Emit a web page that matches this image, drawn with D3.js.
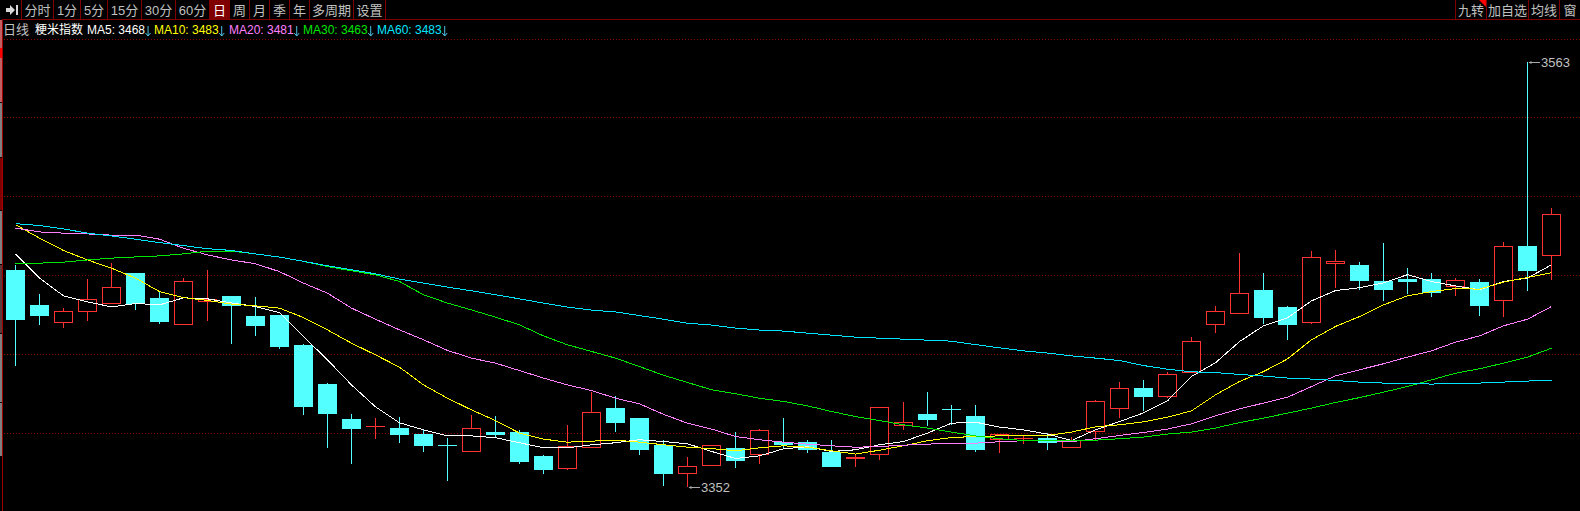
<!DOCTYPE html>
<html><head><meta charset="utf-8">
<script src="https://cdn.jsdelivr.net/npm/d3@7"></script>
<style>html,body{margin:0;padding:0;background:#000;overflow:hidden}svg{display:block}</style>
</head><body><svg id="c" width="1580" height="511"></svg>
<script>
const opens=[3459.9,3442.5,3434.2,3439.7,3443.2,3458.4,3446.0,3433.2,3444.2,3447.0,3437.1,3437.6,3422.7,3403.3,3386.0,3382.4,3381.5,3378.6,3373.0,3369.8,3379.5,3379.5,3367.6,3361.8,3371.9,3391.4,3386.5,3373.1,3359.3,3363.3,3371.6,3368.3,3374.6,3374.6,3369.6,3366.5,3368.3,3383.1,3388.5,3390.9,3387.5,3375.9,3376.4,3376.6,3372.2,3379.9,3391.1,3401.4,3397.5,3409.1,3433.2,3438.7,3450.0,3441.5,3434.2,3463.2,3462.4,3454.4,3455.4,3455.4,3452.1,3453.9,3444.7,3471.8,3467.2];
const highs=[3462.4,3448.0,3441.0,3455.4,3463.3,3458.4,3449.5,3455.8,3459.9,3447.0,3446.5,3437.6,3423.0,3403.8,3388.5,3386.5,3387.0,3380.5,3376.6,3388.0,3387.5,3380.5,3368.1,3383.0,3399.2,3397.4,3386.5,3375.6,3367.1,3372.9,3379.5,3380.9,3386.5,3375.6,3375.6,3368.1,3392.0,3394.4,3399.4,3392.9,3392.9,3378.4,3377.5,3379.0,3377.0,3395.4,3404.3,3405.3,3409.3,3426.6,3442.0,3468.3,3458.4,3442.0,3469.3,3469.8,3463.8,3473.3,3460.9,3458.4,3455.9,3455.4,3473.8,3563.0,3490.6];
const lows=[3412.4,3432.6,3431.1,3434.6,3443.2,3440.0,3433.1,3433.2,3434.6,3423.2,3427.1,3420.7,3388.0,3371.6,3363.7,3376.1,3374.1,3369.6,3355.2,3369.8,3376.6,3363.7,3358.7,3360.7,3371.9,3379.5,3368.1,3352.7,3352.0,3362.7,3361.7,3363.7,3371.6,3369.1,3362.2,3362.2,3365.6,3380.5,3382.5,3383.0,3369.6,3369.1,3373.6,3370.6,3371.6,3375.6,3386.5,3390.0,3396.4,3409.1,3428.6,3438.7,3433.1,3425.2,3433.1,3451.0,3450.0,3444.5,3448.0,3446.5,3447.0,3437.1,3436.6,3449.5,3454.9];
const closes=[3435.1,3437.1,3439.4,3445.3,3451.3,3443.0,3434.1,3454.3,3445.3,3442.0,3432.1,3421.7,3391.9,3388.5,3381.0,3382.5,3378.1,3372.6,3372.9,3381.4,3378.1,3364.6,3360.7,3372.4,3389.3,3384.0,3370.6,3358.7,3362.5,3372.9,3365.1,3380.4,3373.1,3370.6,3362.2,3367.0,3392.0,3384.3,3385.5,3390.8,3370.6,3378.4,3376.5,3374.2,3375.6,3394.8,3401.2,3396.9,3408.2,3424.5,3439.4,3448.3,3436.1,3432.6,3466.2,3464.2,3454.4,3450.0,3453.9,3448.5,3454.8,3442.0,3471.6,3459.4,3487.5];
const ma5=[3467.8,3455.8,3447.0,3444.0,3441.5,3443.2,3442.5,3446.0,3445.5,3443.5,3441.7,3438.6,3426.8,3415.2,3402.8,3391.9,3384.0,3380.5,3377.5,3377.5,3376.6,3374.1,3371.6,3371.6,3373.1,3374.1,3375.6,3374.7,3373.6,3369.8,3366.3,3367.6,3371.1,3372.1,3369.8,3370.6,3373.1,3374.7,3378.9,3383.8,3384.3,3381.9,3380.5,3378.4,3375.2,3380.5,3384.6,3388.9,3394.9,3407.0,3413.8,3424.3,3432.1,3436.1,3444.5,3449.6,3451.0,3453.4,3457.5,3454.1,3451.9,3450.0,3454.1,3455.8,3462.4];
const ma10=[3482.3,3475.6,3469.5,3464.8,3460.7,3455.8,3449.1,3446.1,3444.7,3442.9,3442.0,3440.9,3436.2,3430.1,3423.5,3417.7,3411.6,3402.8,3396.2,3390.4,3385.1,3378.9,3375.9,3374.4,3374.9,3375.4,3374.4,3373.1,3371.9,3371.2,3370.1,3371.6,3372.6,3371.9,3370.1,3368.5,3370.4,3372.6,3375.1,3376.7,3377.2,3377.5,3377.9,3377.7,3379.4,3382.0,3383.0,3384.5,3386.8,3389.9,3397.9,3404.5,3409.4,3415.7,3425.2,3431.8,3436.7,3442.5,3447.0,3449.1,3450.6,3450.3,3453.8,3456.1,3458.5];
const ma20=[3480.6,3478.7,3478.1,3477.7,3477.1,3477.1,3475.1,3470.6,3467.3,3464.8,3462.9,3459.0,3453.3,3448.3,3440.9,3435.4,3430.1,3425.2,3419.9,3416.1,3413.6,3409.9,3406.2,3402.8,3400.0,3396.2,3393.4,3388.2,3383.8,3380.9,3377.2,3375.6,3374.4,3373.4,3372.6,3371.9,3372.2,3372.9,3373.4,3373.9,3373.9,3374.6,3375.1,3375.2,3374.6,3376.1,3377.7,3379.2,3380.9,3383.5,3387.5,3390.9,3393.8,3396.7,3402.0,3407.3,3410.3,3413.3,3416.6,3419.7,3424.0,3427.1,3432.1,3435.4,3441.7];
const ma30=[3462.9,3463.2,3463.7,3464.8,3465.7,3466.3,3466.8,3467.8,3469.2,3469.2,3467.8,3466.2,3464.1,3461.5,3459.4,3457.4,3454.1,3447.5,3443.4,3440.0,3436.4,3432.6,3427.1,3422.7,3419.4,3416.1,3411.9,3407.6,3404.0,3400.4,3398.4,3396.2,3394.6,3392.4,3389.6,3387.1,3385.1,3383.0,3381.4,3379.4,3377.5,3376.1,3375.2,3375.1,3375.1,3375.4,3376.1,3376.9,3378.4,3379.4,3381.4,3384.1,3386.3,3388.8,3391.3,3394.1,3396.5,3399.2,3402.0,3405.3,3408.6,3410.8,3413.6,3416.6,3421.0];
const ma60=[3482.8,3481.9,3480.2,3478.1,3476.7,3475.1,3473.4,3471.9,3470.4,3469.5,3467.8,3466.2,3464.1,3461.9,3459.9,3457.9,3455.3,3453.3,3451.3,3449.5,3447.5,3445.5,3443.4,3441.4,3439.9,3439.0,3437.2,3435.4,3433.4,3432.5,3431.0,3430.0,3429.5,3428.5,3427.5,3426.5,3426.0,3425.5,3425.0,3424.5,3422.8,3421.2,3419.7,3418.6,3417.2,3416.1,3414.9,3412.4,3410.6,3409.3,3408.9,3408.0,3407.2,3406.2,3405.7,3405.0,3404.2,3403.7,3403.7,3403.2,3403.7,3403.7,3404.2,3404.7,3405.2];
const gridPrices=[3574.3,3535.6,3496.4,3457.2,3418.0,3378.9];
const toolLabels=["分时","1分","5分","15分","30分","60分","日","周","月","季","年","多周期","设置"];
const toolEdges=[21,53,80,107,141,175,209,229,249,269,289,309,353,385];
const rightLabels=["九转","加自选","均线","窗"];
const rightEdges=[1455,1486,1528,1559,1580];
const maNames=["MA5: 3468","MA10: 3483","MA20: 3481","MA30: 3463","MA60: 3483"];
const maX=[87,154,229,303,377];
const maColors=["#ffffff","#ffff00","#ff80ff","#00e600","#00e5ff"];

const RED="#ff3232",CYAN="#54ffff",DARK="#800000",GREY="#c0c0c0";
const FONT="'Liberation Sans','Noto Sans CJK SC',sans-serif";
const svg=d3.select("#c");
const n=closes.length;
const x=d3.scaleLinear().domain([0,n-1]).range([15.5,15.5+24*(n-1)]);
const y=d3.scaleLinear().domain([3563,3352]).range([62,487.3]);
const snap=v=>Math.round(v)+0.5;

// grid
svg.append("g").selectAll("line").data(gridPrices).join("line")
  .attr("x1",4).attr("x2",1580).attr("y1",d=>snap(y(d)-0.3)).attr("y2",d=>snap(y(d)-0.3))
  .attr("stroke","#8a0000").attr("stroke-dasharray","1 2").attr("shape-rendering","crispEdges");

// left edge
const g0=svg.append("g").attr("shape-rendering","crispEdges");
[[20,48,"#c06060"],[48,58,"#ff0000"],[58,102,"#c06060"],[103,157,"#808080"],[158,210,"#800000"],[211,264,"#808080"],[265,333,"#5a3a3a"],[334,402,"#808080"],[403,456,"#808080"]].forEach(s=>
  g0.append("rect").attr("x",0).attr("y",s[0]).attr("width",2).attr("height",s[1]-s[0]).attr("fill",s[2]));
g0.append("rect").attr("x",2).attr("y",19).attr("width",1).attr("height",492).attr("fill","#a00000");

// candles
const idx=d3.range(n);
const isUp=i=>closes[i]>=opens[i];
const gc=svg.append("g").attr("shape-rendering","crispEdges");
idx.forEach(i=>{
  const cx=x(i),col=isUp(i)?RED:CYAN;
  const top=y(Math.max(opens[i],closes[i])),bot=y(Math.min(opens[i],closes[i]));
  const h=Math.round(bot)-Math.round(top);
  gc.append("line").attr("x1",cx).attr("x2",cx).attr("y1",y(highs[i])).attr("y2",y(lows[i])).attr("stroke",col);
  if(isUp(i)&&h>0){
    gc.append("rect").attr("x",cx-9).attr("width",18)
      .attr("y",snap(top)).attr("height",h)
      .attr("fill","#000").attr("stroke",col).attr("stroke-width",1);
  }else{
    gc.append("rect").attr("x",cx-9.5).attr("width",19)
      .attr("y",Math.round(top)).attr("height",Math.max(1,h))
      .attr("fill",col);
  }
});

// moving averages
const line=d3.line().x((d,i)=>x(i)).y(d=>y(d));
[ma5,ma10,ma20,ma30,ma60].forEach((s,k)=>{
  svg.append("path").attr("d",line(s)).attr("fill","none").attr("stroke",maColors[k])
    .attr("stroke-width",1).attr("shape-rendering","crispEdges");
});

// extreme labels
function note(i,val,textX){
  const px=x(i)+1,py=snap(y(val)-0.5);
  svg.append("line").attr("x1",px).attr("x2",textX-1).attr("y1",py).attr("y2",py).attr("stroke","#a8a8a8").attr("shape-rendering","crispEdges");
  svg.append("path").attr("d",`M${px},${py}l3,-1.5v3z`).attr("fill","#a8a8a8");
  svg.append("text").attr("x",textX).attr("y",py+4.5).attr("fill",GREY).attr("font-family",FONT).attr("font-size",13).text(Math.round(val));
}
note(63,d3.max(highs),1541);
note(28,d3.min(lows),701);

// toolbar
const gt=svg.append("g");
gt.append("rect").attr("x",209).attr("y",0).attr("width",20).attr("height",19).attr("fill",DARK);
gt.append("rect").attr("x",2).attr("y",19).attr("width",1578).attr("height",1).attr("fill",DARK).attr("shape-rendering","crispEdges");
[...toolEdges,...rightEdges.slice(0,4)].forEach(e=>gt.append("rect").attr("x",e).attr("y",0).attr("width",1).attr("height",19).attr("fill",DARK).attr("shape-rendering","crispEdges"));
gt.append("path").attr("d","M6,8h4v-3l5,5l-5,5v-3h-4z M16,5h2v10h-2z").attr("fill","#d8d8d8");
toolLabels.forEach((t,i)=>gt.append("text").attr("x",(toolEdges[i]+toolEdges[i+1])/2+0.5).attr("y",15)
  .attr("text-anchor","middle").attr("font-family",FONT).attr("font-size",13)
  .attr("fill",t==="日"?"#ffffff":GREY).text(t));
rightLabels.forEach((t,i)=>gt.append("text").attr("x",(rightEdges[i]+rightEdges[i+1])/2+0.5).attr("y",15)
  .attr("text-anchor","middle").attr("font-family",FONT).attr("font-size",13).attr("fill",GREY).text(t));
gt.append("path").attr("d","M1479,0h7v7z").attr("fill","#ff0000");

// legend row
const leg=svg.append("g").attr("font-family",FONT).attr("font-size",12);
leg.append("text").attr("x",3).attr("y",34).attr("font-size",13).attr("fill",GREY).text("日线");
leg.append("text").attr("x",35).attr("y",34).attr("font-size",12).attr("fill","#ffffff").text("粳米指数");
maNames.forEach((t,i)=>{
  const tx=leg.append("text").attr("x",maX[i]).attr("y",33.5).attr("fill",maColors[i]).text(t);
  const w=tx.node().getComputedTextLength();
  const ax=maX[i]+w+3;
  leg.append("path").attr("d",`M${ax},26v10M${ax-2.5},33l2.5,3l2.5,-3`).attr("fill","none").attr("stroke","#4fc3e8");
});
</script></body></html>
